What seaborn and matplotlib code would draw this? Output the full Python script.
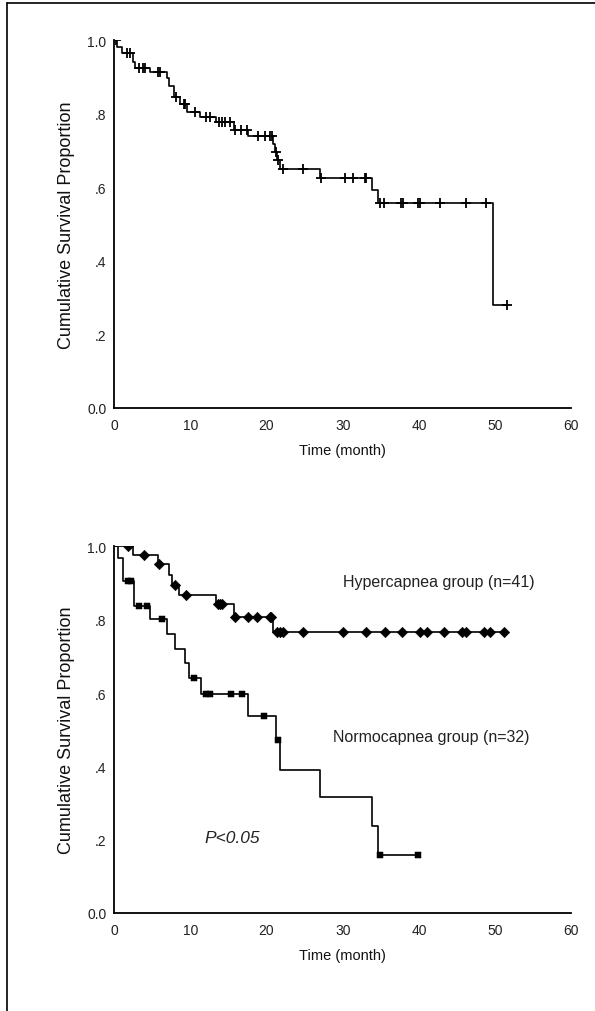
import numpy as np
import pandas as pd
import seaborn as sns
import matplotlib.pyplot as plt
from matplotlib.lines import Line2D

# ---- data ----
# top panel: all patients
all_step_t = [0, 0.4, 1.0, 2.5, 2.7, 4.7, 6.9, 7.2, 7.8, 8.7, 9.6, 11.3, 13.3, 15.7,
              17.6, 20.9, 21.1, 21.4, 21.8, 27.0, 33.8, 34.6, 49.7]
all_step_s = [1.0, 0.983, 0.965, 0.942, 0.924, 0.915, 0.899, 0.877, 0.847, 0.828, 0.806,
              0.792, 0.777, 0.756, 0.739, 0.719, 0.697, 0.676, 0.651, 0.626, 0.592, 0.558, 0.281]
all_censor = [0.2, 1.7, 2.1, 3.2, 3.8, 4.1, 5.8, 6.0, 8.1, 9.1, 9.3, 10.6, 12.1, 12.6,
              13.7, 14.1, 14.5, 15.2, 15.9, 16.7, 17.4, 18.9, 19.8, 20.4, 20.7, 21.2,
              21.5, 22.2, 24.8, 27.1, 30.3, 31.4, 32.9, 33.1, 34.9, 35.4, 37.7, 37.9,
              39.9, 40.2, 42.8, 46.2, 48.8, 51.6]

# bottom panel: hypercapnea group
hyper_step_t = [0, 2.5, 5.8, 7.2, 7.6, 8.5, 13.4, 15.7, 20.8]
hyper_step_s = [1.0, 0.977, 0.951, 0.922, 0.896, 0.867, 0.842, 0.808, 0.767]
hyper_censor = [1.8, 3.9, 5.9, 8.0, 9.4, 13.6, 13.9, 14.2, 15.8, 17.5, 18.8, 20.4, 20.6,
                21.4, 21.7, 22.2, 24.8, 30.1, 33.0, 35.6, 37.8, 40.1, 41.1, 43.3, 45.7,
                46.2, 48.6, 49.3, 51.2]

# bottom panel: normocapnea group
normo_step_t = [0, 0.45, 1.1, 2.6, 4.7, 6.9, 8.0, 9.3, 9.8, 11.4, 17.5, 21.2, 21.7,
                27.0, 33.9, 34.6]
normo_step_s = [1.0, 0.969, 0.905, 0.838, 0.801, 0.760, 0.719, 0.683, 0.642, 0.598,
                0.537, 0.471, 0.391, 0.316, 0.237, 0.158]
normo_censor = [1.8, 2.2, 3.2, 4.3, 6.3, 10.5, 12.0, 12.6, 15.3, 16.8, 19.7, 21.5,
                34.9, 39.9]

x_ticks = [0, 10, 20, 30, 40, 50, 60]
y_ticks = [0.0, 0.2, 0.4, 0.6, 0.8, 1.0]
y_ticklabels = ["0.0", ".2", ".4", ".6", ".8", "1.0"]
hyper_label = "Hypercapnea group (n=41)"
normo_label = "Normocapnea group (n=32)"


def km_frames(step_t, step_s, censor):
    # step curve runs on to the last censored point
    end = max(censor[-1], step_t[-1])
    curve = pd.DataFrame({"t": list(step_t) + [end], "s": list(step_s) + [step_s[-1]]})
    idx = np.searchsorted(step_t, censor, side="right") - 1
    marks = pd.DataFrame({"t": censor, "s": np.array(step_s)[idx]})
    return curve, marks


sns.set_style("white")
plt.rcParams["font.family"] = ["Liberation Sans", "DejaVu Sans"]

fig = plt.figure(figsize=(5.95, 10.12), dpi=100)
ax1 = fig.add_axes([0.192, 0.596, 0.768, 0.363])
ax2 = fig.add_axes([0.192, 0.097, 0.768, 0.362])


def style_axis(ax):
    ax.set_xlim(0, 60)
    ax.set_ylim(0, 1.0)
    ax.set_xticks(x_ticks)
    ax.set_yticks(y_ticks)
    ax.set_yticklabels(y_ticklabels)
    for side in ["top", "right"]:
        ax.spines[side].set_visible(False)
    for side in ["left", "bottom"]:
        ax.spines[side].set_color("black")
        ax.spines[side].set_linewidth(1.3)
    ax.tick_params(direction="out", length=2.5, width=2.5, color="black",
                   labelsize=10, labelcolor="#222222")
    ax.tick_params(axis="x", pad=5)
    ax.tick_params(axis="y", pad=3)
    ax.set_xlabel("Time (month)", fontsize=10.5, labelpad=8, color="#111111")
    ax.set_ylabel("Cumulative Survival Proportion", fontsize=13, labelpad=9,
                  color="#111111")
    ax.grid(False)


# top panel
curve, marks = km_frames(all_step_t, all_step_s, all_censor)
sns.lineplot(data=curve, x="t", y="s", drawstyle="steps-post", color="black",
             linewidth=1.2, ax=ax1, estimator=None, sort=False)
sns.scatterplot(data=marks, x="t", y="s", marker="+", s=42, color="black",
                linewidth=1.3, ax=ax1, zorder=3)
style_axis(ax1)

# bottom panel
curve, marks = km_frames(hyper_step_t, hyper_step_s, hyper_censor)
sns.lineplot(data=curve, x="t", y="s", drawstyle="steps-post", color="black",
             linewidth=1.2, ax=ax2, estimator=None, sort=False)
sns.scatterplot(data=marks, x="t", y="s", marker="D", s=28, color="black",
                edgecolor="black", ax=ax2, zorder=3)
curve, marks = km_frames(normo_step_t, normo_step_s, normo_censor)
sns.lineplot(data=curve, x="t", y="s", drawstyle="steps-post", color="black",
             linewidth=1.2, ax=ax2, estimator=None, sort=False)
sns.scatterplot(data=marks, x="t", y="s", marker="s", s=20, color="black",
                edgecolor="black", ax=ax2, zorder=3)
style_axis(ax2)

ax2.text(30.0, 0.905, hyper_label, fontsize=11.5, color="#222222", va="center")
ax2.text(28.7, 0.48, normo_label, fontsize=11.5, color="#222222", va="center")
ax2.text(11.9, 0.207, "P<0.05", fontsize=12.5, style="italic", color="#222222",
         va="center")

# frame around the whole figure (left and top edges visible)
fig.add_artist(Line2D([0.011, 0.011], [0, 0.996], transform=fig.transFigure,
                      color="black", linewidth=1.2))
fig.add_artist(Line2D([0.011, 1.0], [0.996, 0.996], transform=fig.transFigure,
                      color="black", linewidth=1.2))

fig.savefig("out.png", dpi=100)
